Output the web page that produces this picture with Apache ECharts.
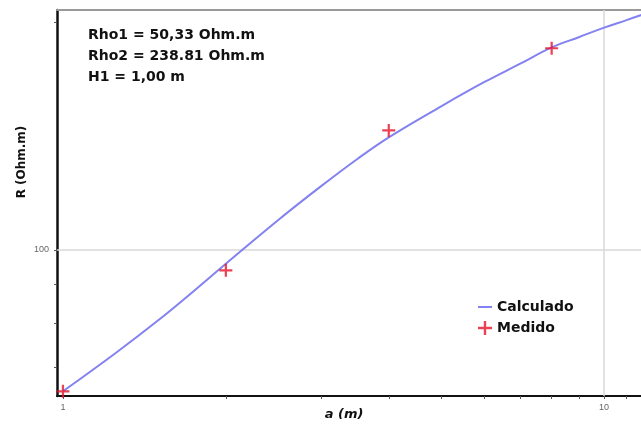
<!DOCTYPE html>
<html>
<head>
<meta charset="utf-8">
<script src="https://cdn.jsdelivr.net/npm/echarts@6/dist/echarts.min.js"></script>
<style>html,body{margin:0;padding:0;background:#fff;}#c{width:641px;height:426px;}</style>
</head>
<body>
<div id="c"></div>
<script>
// Data
const aCalc = [1, 1.25, 1.5, 1.75, 2, 2.5, 3, 3.5, 4, 5, 6, 7, 8, 9, 10, 11, 12];
const rCalc = [65, 73, 80.7, 88.4, 95.9, 109.6, 121.5, 132, 141, 155, 166.8, 176.5, 185.5, 191.5, 197, 201.6, 206];
const aMed = [1, 2, 4, 8];
const rMed = [65, 94, 144, 185];
const xTickValues = [1, 2, 3, 4, 5, 6, 7, 8, 9, 10, 11];
const xLabelValues = [1, 10];
const yTickValues = [70, 80, 90, 100, 200];
const yLabelValues = [100];
const infoLines = ['Rho1 = 50,33 Ohm.m', 'Rho2 = 238.81 Ohm.m', 'H1 = 1,00 m'];
const seriesNames = ['Calculado', 'Medido'];
const xName = 'a (m)';
const yName = 'R (Ohm.m)';

const chart = echarts.init(document.getElementById('c'), null, {renderer: 'canvas'});
const plus = 'path://M-1.7,-10 L1.7,-10 L1.7,-1.7 L10,-1.7 L10,1.7 L1.7,1.7 L1.7,10 L-1.7,10 L-1.7,1.7 L-10,1.7 L-10,-1.7 L-1.7,-1.7 Z';
const font = 'DejaVu Sans, sans-serif';
const smallFont = 'Liberation Sans, Arial, sans-serif';

chart.setOption({
  animation: false,
  backgroundColor: '#fff',
  textStyle: {fontFamily: font},
  grid: {left: 57, top: 10, width: 584, height: 386, show: false, containLabel: false},
  xAxis: [{
    type: 'log', min: 0.975, max: 11.7,
    axisLine: {show: true, onZero: false, lineStyle: {color: '#111', width: 2}},
    axisTick: {show: true, customValues: xTickValues, length: 3, lineStyle: {color: '#555', width: 1}},
    axisLabel: {show: true, customValues: xLabelValues, color: '#666', fontSize: 9, fontFamily: smallFont, margin: 7, formatter: v => String(v)},
    splitLine: {show: false}, minorTick: {show: false}
  }, {
    type: 'log', min: 0.975, max: 11.7, position: 'top',
    axisLine: {show: true, onZero: false, lineStyle: {color: '#9a9a9a', width: 2}},
    axisTick: {show: false}, axisLabel: {show: false}, splitLine: {show: false}
  }],
  yAxis: {
    type: 'log', min: 64.07, max: 207.9,
    axisLine: {show: true, onZero: false, lineStyle: {color: '#111', width: 2.5}},
    axisTick: {show: true, customValues: yTickValues, length: 3, lineStyle: {color: '#555', width: 1}},
    axisLabel: {show: true, customValues: yLabelValues, color: '#666', fontSize: 9, fontFamily: smallFont, margin: 8, formatter: v => String(v)},
    splitLine: {show: false}, minorTick: {show: false}
  },
  legend: {
    show: true, orient: 'vertical', left: 473, top: 295, itemGap: 7,
    itemWidth: 14, itemHeight: 14,
    textStyle: {fontFamily: font, fontSize: 14, fontWeight: 'bold', color: '#111'},
    data: [{name: seriesNames[0], icon: 'path://M0,6 L14,6 L14,8 L0,8 Z'}, {name: seriesNames[1]}]
  },
  graphic: [
    {type: 'text', left: 88, top: 25, style: {text: infoLines.join('\n'), font: 'bold 14px ' + font, fill: '#111', lineHeight: 21}},
    {type: 'text', x: 344, y: 415, style: {text: xName, font: 'italic bold 13px ' + font, fill: '#111', align: 'center', verticalAlign: 'middle'}},
    {type: 'text', x: 22, y: 162, rotation: Math.PI / 2, style: {text: yName, font: 'bold 12px ' + font, fill: '#111', align: 'center', verticalAlign: 'middle'}}
  ],
  series: [
    {
      name: seriesNames[0], type: 'line', smooth: 0.4, symbol: 'none',
      lineStyle: {color: '#8282f0', width: 2}, itemStyle: {color: '#8282f0'},
      data: aCalc.map((a, i) => [a, rCalc[i]]), z: 3,
      markLine: {
        silent: true, symbol: 'none', label: {show: false},
        lineStyle: {color: '#d8d8d8', width: 1.5, type: 'solid'},
        data: [{xAxis: 10}, {yAxis: 100}], z: 1
      }
    },
    {
      name: seriesNames[1], type: 'scatter', symbol: plus, symbolSize: 13,
      itemStyle: {color: '#e3132b'}, z: 4,
      data: aMed.map((a, i) => [a, rMed[i]])
    }
  ]
});
</script>
</body>
</html>
